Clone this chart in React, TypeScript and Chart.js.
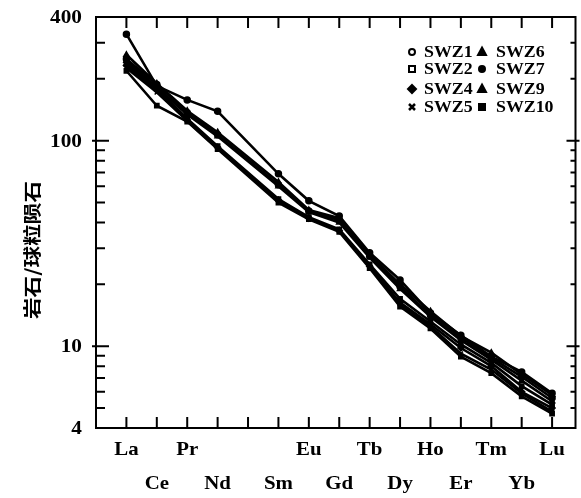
import React, { useEffect, useRef } from "react";
import { Chart, registerables } from "chart.js";

Chart.register(...registerables);

const elements = ["La", "Ce", "Pr", "Nd", "Pm", "Sm", "Eu", "Gd", "Tb", "Dy", "Ho", "Er", "Tm", "Yb", "Lu"];
const labelledElements = ["La", "Ce", "Pr", "Nd", "Sm", "Eu", "Gd", "Tb", "Dy", "Ho", "Er", "Tm", "Yb", "Lu"];

const SWZ1 = [250, 188, 137, 107, null, 61, 45.5, 41, 27.5, 19.5, 14.2, 11, 8.8, 7.1, 5.6];
const SWZ2 = [238, 180, 128, 94, null, 52, 42.5, 37, 25, 17, 13.2, 10.2, 8.3, 6.4, 5.2];
const SWZ4 = [232, 176, 126, 93, null, 51.5, 42, 36.5, 24.5, 16.3, 12.8, 9.8, 8, 6, 5];
const SWZ5 = [226, 172, 125, 92, null, 51, 42, 36.5, 24.5, 16, 12.5, 9.2, 7.7, 5.9, 4.8];
const SWZ6 = [262, 190, 140, 110, null, 63, 46, 42, 28, 20, 14.8, 11.2, 9.3, 7.3, 5.8];
const SWZ7 = [330, 185, 158, 139, null, 69, 51, 43, 28.5, 21, 14.5, 11.3, 8.9, 7.5, 5.9];
const SWZ9 = [245, 182, 134, 105, null, 60, 45, 40, 27, 19, 13.9, 10.7, 8.6, 6.8, 5.4];
const SWZ10 = [219, 148, 124, 91, null, 50, 41.5, 36, 24, 15.6, 12.2, 8.9, 7.4, 5.7, 4.7];

const seriesNames = ["SWZ1", "SWZ2", "SWZ4", "SWZ5", "SWZ6", "SWZ7", "SWZ9", "SWZ10"];
const seriesValues = [SWZ1, SWZ2, SWZ4, SWZ5, SWZ6, SWZ7, SWZ9, SWZ10];
const seriesMarkers = ["circle", "rect", "rectRot", "crossRot", "triangle", "circle", "triangle", "rect"];
const seriesOpen = [true, true, false, false, false, false, false, false];

const yMajorLabels = [4, 10, 100, 400];
const yMin = 4;
const yMax = 400;

const FONT = "'Liberation Serif', 'Times New Roman', serif";

function drawMarker(ctx: CanvasRenderingContext2D, style: string, x: number, y: number, r: number, open: boolean) {
  ctx.save();
  ctx.fillStyle = open ? "#fff" : "#000";
  ctx.strokeStyle = "#000";
  ctx.lineWidth = 2;
  ctx.beginPath();
  if (style === "circle") {
    ctx.arc(x, y, r, 0, Math.PI * 2);
    ctx.fill();
    ctx.stroke();
  } else if (style === "rect") {
    ctx.rect(x - r, y - r, 2 * r, 2 * r);
    ctx.fill();
    ctx.stroke();
  } else if (style === "rectRot") {
    ctx.moveTo(x, y - r - 1);
    ctx.lineTo(x + r + 1, y);
    ctx.lineTo(x, y + r + 1);
    ctx.lineTo(x - r - 1, y);
    ctx.closePath();
    ctx.fill();
    ctx.stroke();
  } else if (style === "crossRot") {
    ctx.lineWidth = 2.5;
    ctx.moveTo(x - r, y - r);
    ctx.lineTo(x + r, y + r);
    ctx.moveTo(x + r, y - r);
    ctx.lineTo(x - r, y + r);
    ctx.stroke();
  } else if (style === "triangle") {
    ctx.moveTo(x, y - r - 1.5);
    ctx.lineTo(x + r + 1, y + r);
    ctx.lineTo(x - r - 1, y + r);
    ctx.closePath();
    ctx.fill();
    ctx.stroke();
  }
  ctx.restore();
}

function stretchedText(ctx: CanvasRenderingContext2D, text: string, x: number, y: number, sx: number) {
  ctx.save();
  ctx.translate(x, y);
  ctx.scale(sx, 1);
  ctx.fillText(text, 0, 0);
  ctx.restore();
}

const framePlugin = {
  id: "framePlugin",
  afterDraw(chart: any) {
    const ctx: CanvasRenderingContext2D = chart.ctx;
    const { left, right, top, bottom } = chart.chartArea;
    const xs = chart.scales.x;
    const ys = chart.scales.y;
    ctx.save();
    ctx.strokeStyle = "#000";
    ctx.fillStyle = "#000";
    ctx.lineWidth = 2;
    ctx.strokeRect(left, top, right - left, bottom - top);

    // x ticks (top and bottom, inward)
    elements.forEach((_, i) => {
      const px = xs.getPixelForValue(i);
      ctx.beginPath();
      ctx.moveTo(px, bottom);
      ctx.lineTo(px, bottom - 11);
      ctx.moveTo(px, top);
      ctx.lineTo(px, top + 11);
      ctx.stroke();
    });

    // y ticks
    const decades = [1, 10, 100];
    decades.forEach((d) => {
      for (let m = 1; m <= 9; m++) {
        const v = m * d;
        if (v < yMin || v > yMax) continue;
        const py = ys.getPixelForValue(v);
        const major = m === 1;
        ctx.beginPath();
        if (major) {
          ctx.moveTo(left - 4, py);
          ctx.lineTo(left + 13, py);
          ctx.moveTo(right + 4, py);
          ctx.lineTo(right - 9, py);
        } else {
          ctx.moveTo(left, py);
          ctx.lineTo(left + 9, py);
          ctx.moveTo(right, py);
          ctx.lineTo(right - 5, py);
        }
        ctx.stroke();
      }
    });

    // y labels
    ctx.font = `bold 19px ${FONT}`;
    ctx.textAlign = "right";
    ctx.textBaseline = "middle";
    yMajorLabels.forEach((v) => {
      const py = ys.getPixelForValue(v);
      stretchedText(ctx, String(v), left - 14, py + 1, 1.12);
    });

    // x labels in two rows (alternating by element position)
    ctx.textAlign = "center";
    labelledElements.forEach((name) => {
      const i = elements.indexOf(name);
      const px = xs.getPixelForValue(i);
      const row = i % 2;
      stretchedText(ctx, name, px, row === 0 ? bottom + 22 : bottom + 56, 1.1);
    });

    // y title
    ctx.save();
    ctx.translate(32, 250);
    ctx.rotate(-Math.PI / 2);
    ctx.scale(1.2, 1);
    ctx.font = `bold 18px 'Noto Sans CJK SC', sans-serif`;
    ctx.textAlign = "center";
    ctx.textBaseline = "middle";
    ctx.fillText("岩石/球粒陨石", 0, 0);
    ctx.restore();

    // legend
    const rowsY = [52, 69, 89, 107];
    ctx.font = `bold 17px ${FONT}`;
    ctx.textAlign = "left";
    ctx.textBaseline = "middle";
    seriesNames.forEach((name, k) => {
      const col = k < 4 ? 0 : 1;
      const row = k % 4;
      const mx = col === 0 ? 412 : 482;
      const tx = col === 0 ? 424 : 496;
      const y = rowsY[row];
      drawMarker(ctx, seriesMarkers[k], mx, y, 3, seriesOpen[k]);
      stretchedText(ctx, name, tx, y + 1, 1.05);
    });
    ctx.restore();
  },
};

export default function App() {
  const canvasRef = useRef<HTMLCanvasElement | null>(null);

  useEffect(() => {
    document.body.style.margin = "0";
    const canvas = canvasRef.current;
    if (!canvas) return;
    const datasets = seriesNames.map((name, k) => ({
      label: name,
      data: seriesValues[k].map((v, i) => ({ x: i, y: v })),
      borderColor: "#000",
      backgroundColor: "#000",
      pointBorderColor: "#000",
      pointBackgroundColor: "#000",
      pointStyle: seriesMarkers[k] as any,
      pointRadius: 3,
      pointBorderWidth: 1.5,
      borderWidth: 2.6,
      spanGaps: true,
      tension: 0,
    }));
    const chart = new Chart(canvas, {
      type: "line",
      data: { datasets },
      options: {
        responsive: false,
        animation: false,
        layout: { padding: { left: 96, right: 1, top: 17, bottom: 70 } },
        plugins: { legend: { display: false }, tooltip: { enabled: false } },
        scales: {
          x: { type: "linear", min: -1, max: 14.77, display: false },
          y: { type: "logarithmic", min: yMin, max: yMax, display: false },
        },
      },
      plugins: [framePlugin],
    });
    return () => chart.destroy();
  }, []);

  return (
    <div style={{ position: "absolute", left: 0, top: 0, width: 581, height: 498, background: "#fff" }}>
      <canvas ref={canvasRef} width={581} height={498} />
    </div>
  );
}
